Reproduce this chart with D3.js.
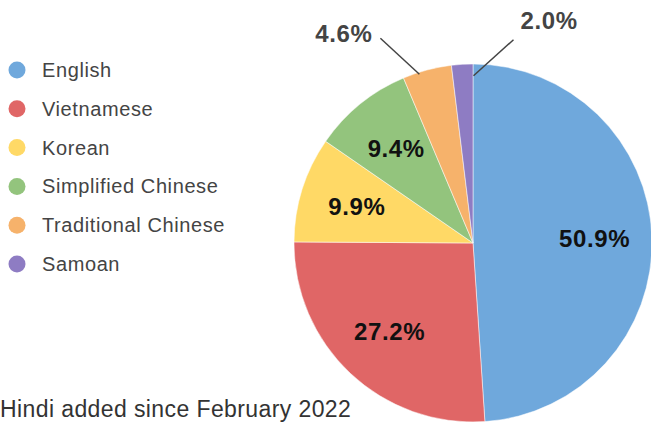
<!DOCTYPE html>
<html>
<head>
<meta charset="utf-8">
<script src="https://cdn.jsdelivr.net/npm/d3@7"></script>
<style>
  body { margin: 0; background: #fff; }
  svg { display: block; font-family: Arial, "Liberation Sans", sans-serif; }
</style>
</head>
<body>
<svg width="651" height="424"></svg>
<script>
// data
const languages = ['English', 'Vietnamese', 'Korean', 'Simplified Chinese', 'Traditional Chinese', 'Samoan'];
const shares = [50.9, 27.2, 9.9, 9.4, 4.6, 2.0];
const colours = ['#6fa8dc', '#e06666', '#ffd966', '#93c47d', '#f6b26b', '#8e7cc3'];
const note = 'Hindi added since February 2022';

const rows = languages.map((l, i) => ({ language: l, share: shares[i] }));

const svg = d3.select('svg');
const cx = 473, cy = 243, r = 179;

const color = d3.scaleOrdinal().domain(languages).range(colours);

// pie begint bovenaan, met de klok mee
const pie = d3.pie().value(d => d.share).sort(null);
const arcs = pie(rows);
const arc = d3.arc().innerRadius(0).outerRadius(r);
const labelArc = d3.arc().innerRadius(r * 0.68).outerRadius(r * 0.68);
const edgeArc = d3.arc().innerRadius(r * 0.97).outerRadius(r * 0.97);

const g = svg.append('g').attr('transform', `translate(${cx},${cy})`);

g.selectAll('path.slice').data(arcs)
  .enter().append('path')
    .attr('class', 'slice')
    .attr('d', arc)
    .attr('fill', d => color(d.data.language))
    .attr('stroke', '#fff')
    .attr('stroke-width', 0.5);

// kleine stukken krijgen een label buiten de taart
const small = d => d.data.share < 5;
// nudge van het begin, lengte van de lijn, plek van de tekst
const leader = {
  'Traditional Chinese': { nx: -9, ny: -1, dx: -39, dy: -36, anchor: 'end', tx: -8, ty: -5 },
  'Samoan': { nx: 11, ny: 6, dx: 40, dy: -36, anchor: 'start', tx: 7, ty: -19 }
};
const lx1 = d => edgeArc.centroid(d)[0] + leader[d.data.language].nx;
const ly1 = d => edgeArc.centroid(d)[1] + leader[d.data.language].ny;
const lx2 = d => lx1(d) + leader[d.data.language].dx;
const ly2 = d => ly1(d) + leader[d.data.language].dy;

g.selectAll('text.inside').data(arcs.filter(d => !small(d)))
  .enter().append('text')
    .attr('class', 'inside')
    .attr('x', d => labelArc.centroid(d)[0])
    .attr('y', d => labelArc.centroid(d)[1])
    .attr('dy', '0.35em')
    .attr('text-anchor', 'middle')
    .style('font-size', '24px')
    .style('font-weight', 'bold')
    .style('letter-spacing', '0.6px')
    .style('fill', '#111')
    .text(d => d.data.share.toFixed(1) + '%');

const outs = g.selectAll('g.out').data(arcs.filter(small))
  .enter().append('g').attr('class', 'out');

outs.append('line')
  .attr('x1', lx1)
  .attr('y1', ly1)
  .attr('x2', lx2)
  .attr('y2', ly2)
  .attr('stroke', '#444')
  .attr('stroke-width', 1.5);

outs.append('text')
  .attr('x', d => lx2(d) + leader[d.data.language].tx)
  .attr('y', d => ly2(d) + leader[d.data.language].ty)
  .attr('dy', '0.35em')
  .attr('text-anchor', d => leader[d.data.language].anchor)
  .style('font-size', '24px')
  .style('font-weight', 'bold')
  .style('letter-spacing', '0.6px')
  .style('fill', '#444')
  .text(d => d.data.share.toFixed(1) + '%');

// legenda
const legendY = d3.scalePoint().domain(languages).range([70, 264]);
const legend = svg.append('g');

legend.selectAll('circle').data(languages)
  .enter().append('circle')
    .attr('cx', 17)
    .attr('cy', d => legendY(d))
    .attr('r', 8.5)
    .attr('fill', d => color(d));

legend.selectAll('text').data(languages)
  .enter().append('text')
    .attr('x', 42)
    .attr('y', d => legendY(d))
    .attr('dy', '0.35em')
    .style('font-size', '20px')
    .style('letter-spacing', '0.6px')
    .style('fill', '#444')
    .text(d => d);

svg.append('text')
  .attr('x', 0)
  .attr('y', 417)
  .style('font-size', '23px')
  .style('letter-spacing', '0.4px')
  .style('fill', '#333')
  .text(note);
</script>
</body>
</html>
